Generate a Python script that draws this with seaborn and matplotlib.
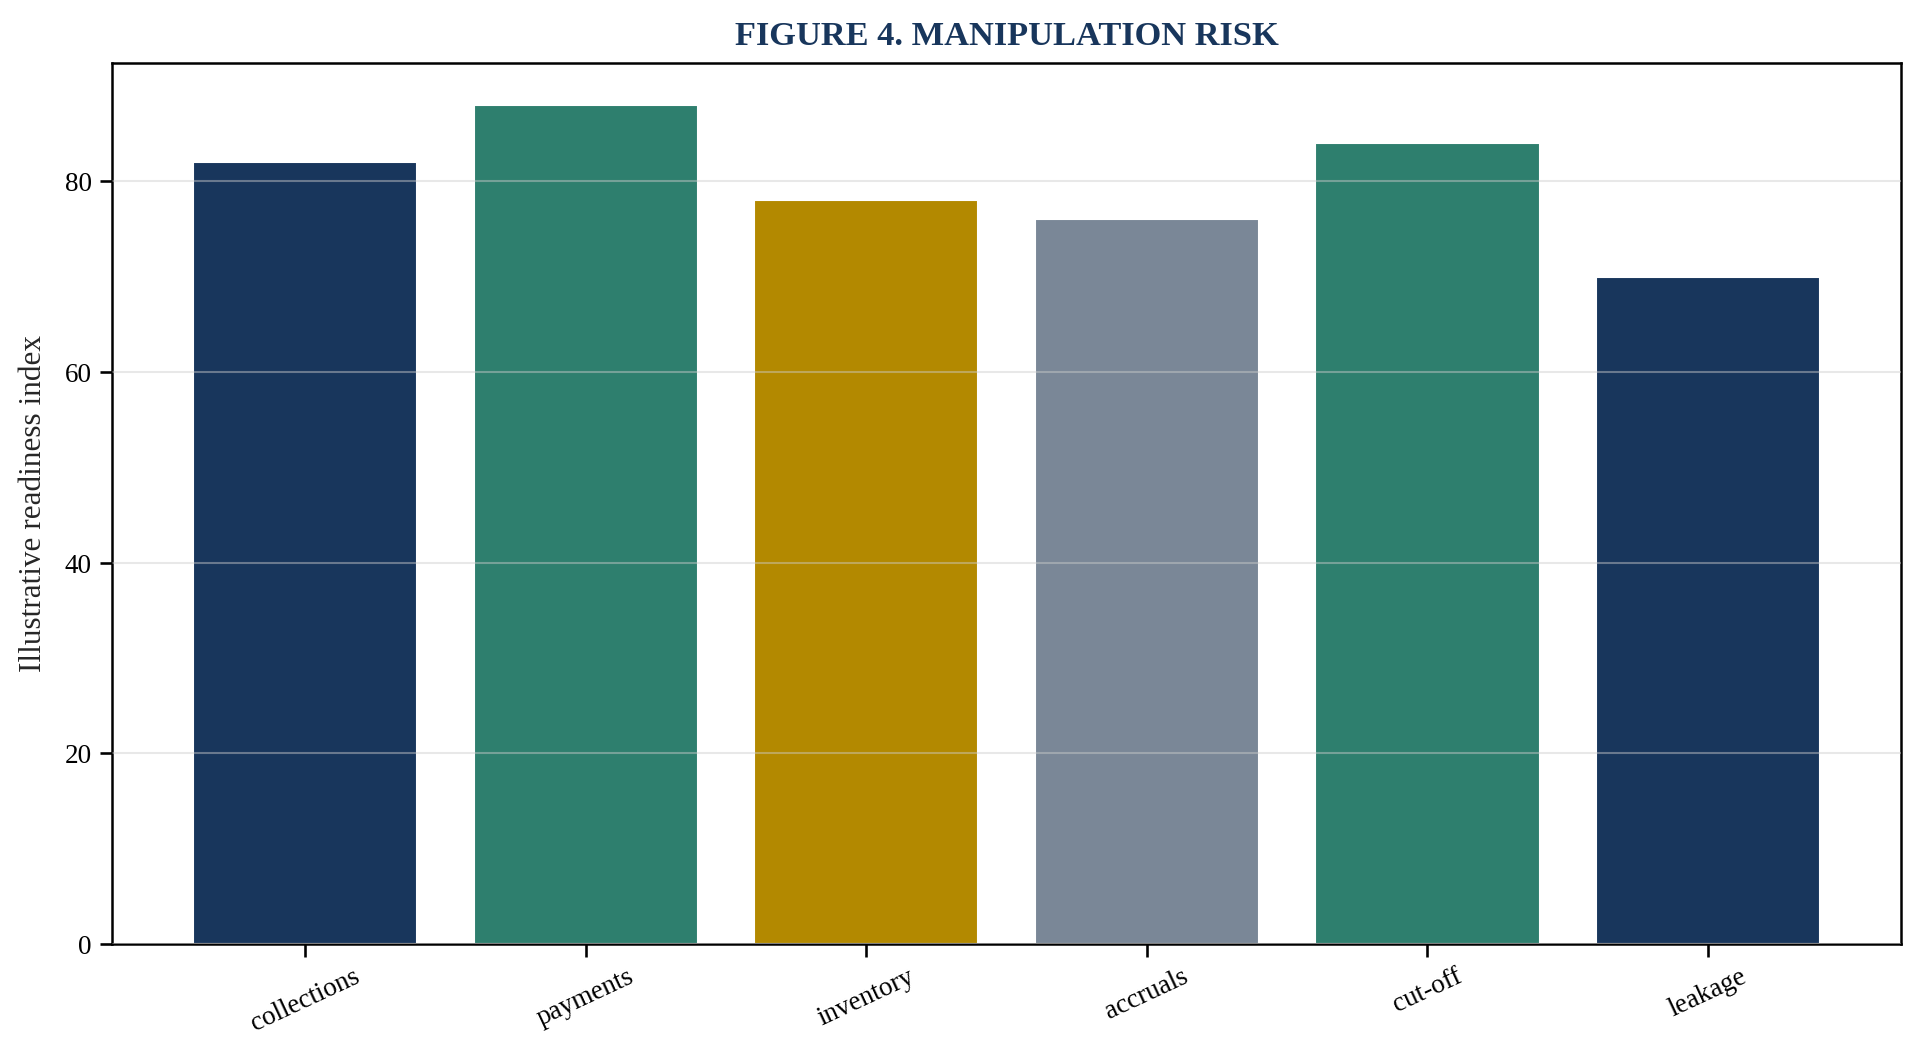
import matplotlib
matplotlib.use("Agg")
import matplotlib.pyplot as plt
import pandas as pd
import seaborn as sns

# data
categories = ["collections", "payments", "inventory", "accruals", "cut-off", "leakage"]
readiness = [82, 88, 78, 76, 84, 70]
bar_colors = ["#18365c", "#2e7f6e", "#b38900", "#7a8797", "#2e7f6e", "#18365c"]

sns.set_theme(style="ticks")
plt.rcParams["font.family"] = ["Liberation Serif", "DejaVu Serif"]

df = pd.DataFrame({"category": categories, "value": readiness})

fig, ax = plt.subplots(figsize=(12.83, 7.05), dpi=150)
sns.barplot(data=df, x="category", y="value", hue="category",
            palette=bar_colors, width=0.8, legend=False, ax=ax,
            saturation=1)

ax.set_title("FIGURE 4. MANIPULATION RISK", fontsize=16.5, fontweight="bold",
             color="#18365c", pad=9)
ax.set_xlabel("")
ax.set_ylabel("Illustrative readiness index", fontsize=15, labelpad=8)
ax.tick_params(axis="both", labelsize=13, colors="black")
plt.setp(ax.get_xticklabels(), rotation=25)
ax.set_xlim(-0.69, 5.69)
ax.set_ylim(0, 92.4)

ax.grid(axis="y", color="#cccccc", alpha=0.45, lw=1)
ax.set_axisbelow(False)
for sp in ax.spines.values():
    sp.set_visible(True)
    sp.set_color("black")
    sp.set_linewidth(1.2)

fig.subplots_adjust(left=0.058, right=0.988, top=0.94, bottom=0.107)
fig.savefig("out.png", dpi=150)
